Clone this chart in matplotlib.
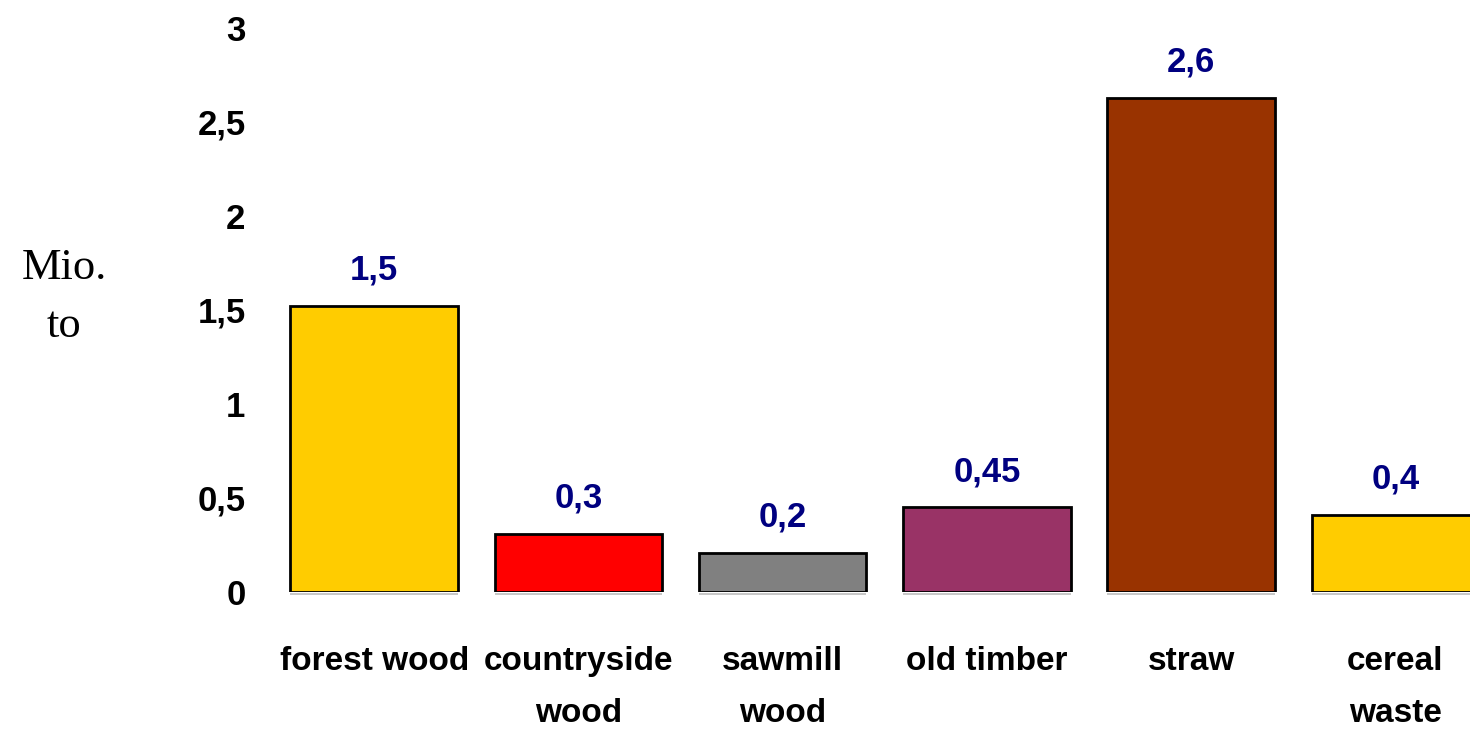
import numpy as np
import matplotlib.pyplot as plt

categories = ['forest wood', 'countryside\nwood', 'sawmill\nwood', 'old timber', 'straw', 'cereal\nwaste']
values = [1.52, 0.31, 0.21, 0.45, 2.63, 0.41]
value_labels = ['1,5', '0,3', '0,2', '0,45', '2,6', '0,4']
colors = ['#FFCC00', '#FF0000', '#808080', '#993366', '#993300', '#FFCC00']
yticks = [0, 0.5, 1, 1.5, 2, 2.5, 3]
ytick_labels = ['0', '0,5', '1', '1,5', '2', '2,5', '3']

narrow = ['Liberation Sans Narrow', 'Liberation Sans', 'DejaVu Sans']

fig = plt.figure(figsize=(14.7, 7.29), dpi=100)
ax = fig.add_axes([272/1470, 137/729, 1 - 272/1470, 564/729])

x = np.arange(len(categories))
ax.bar(x, values, width=0.82, color=colors, edgecolor='black', linewidth=2)
# faint shadow line under the bars
ax.bar(x, 0.012, bottom=-0.018, width=0.82, color='#C8C8C8', linewidth=0, clip_on=False)

for xi, v, lab in zip(x, values, value_labels):
    ax.annotate(lab, (xi, v), xytext=(0, 19), textcoords='offset points',
                ha='center', va='baseline', color='#000080',
                fontsize=25, fontweight='bold', family=narrow)

ax.set_xlim(-0.5, 5.365)
ax.set_ylim(0, 3)
ax.set_yticks(yticks)
ax.set_yticklabels(ytick_labels, fontsize=25, fontweight='bold', family=narrow)
ax.set_xticks(x)
ax.set_xticklabels(categories, fontsize=24, fontweight='bold', family=narrow,
                   linespacing=1.85, va='top')
ax.tick_params(axis='y', length=0, pad=19)
ax.tick_params(axis='x', length=0, pad=39)
for s in ax.spines.values():
    s.set_visible(False)

fig.text(64/1470, 1 - 297/729, 'Mio.\nto', ha='center', va='center',
         fontsize=32, family=['Liberation Serif', 'DejaVu Serif'], linespacing=1.55)

fig.savefig('out.png', dpi=100)
